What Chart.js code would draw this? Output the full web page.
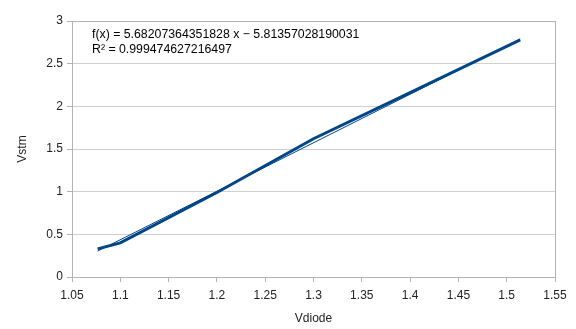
<!DOCTYPE html>
<html>
<head>
<meta charset="utf-8">
<script src="https://cdn.jsdelivr.net/npm/chart.js@4/dist/chart.umd.min.js"></script>
<style>
  html, body { margin: 0; padding: 0; background: #fff; }
  #wrap { width: 576px; height: 329px; }
</style>
</head>
<body>
<div id="wrap"><canvas id="chartDiodo" width="576" height="329"></canvas></div>
<script>
// medidas
const vdiode = [1.0765, 1.1, 1.2, 1.3, 1.4, 1.514];
const vstm = [0.33, 0.40, 0.99, 1.62, 2.16, 2.78];

// recta de tendencia (extremos)
const trendX = [1.0765, 1.514];
const trendY = [0.303, 2.789];

const ecuacion = [
    'f(x) = 5.68207364351828 x \u2212 5.81357028190031',
    'R\u00b2 = 0.999474627216497'
];

const xTicks = [1.05, 1.1, 1.15, 1.2, 1.25, 1.3, 1.35, 1.4, 1.45, 1.5, 1.55];

const azul = '#004586';
const gris = '#b3b3b3';
const grisClaro = '#d0d0d0';
const fuente = { family: '"Liberation Sans", Arial, sans-serif', size: 12 };

const textoEcuacion = {
    id: 'textoEcuacion',
    afterDatasetsDraw(chart) {
        const c = chart.ctx;
        const area = chart.chartArea;
        c.save();
        c.fillStyle = '#000';
        c.font = '12.3px "Liberation Sans", Arial, sans-serif';
        c.textBaseline = 'alphabetic';
        ecuacion.forEach((t, i) => {
            c.fillText(t, area.left + 20, area.top + 16.5 + i * 15.5);
        });
        c.restore();
    }
};

const ctx = document.getElementById('chartDiodo').getContext('2d');

const chartDiodo = new Chart(ctx, {
    type: 'scatter',
    data: {
        datasets: [{
            label: 'Vstm',
            data: vdiode.map((x, i) => ({ x: x, y: vstm[i] })),
            showLine: true,
            borderColor: azul,
            borderWidth: 3,
            pointRadius: 0,
            tension: 0
        }, {
            label: 'Tendencia',
            data: trendX.map((x, i) => ({ x: x, y: trendY[i] })),
            showLine: true,
            borderColor: azul,
            borderWidth: 1,
            pointRadius: 0
        }]
    },
    options: {
        responsive: false,
        animation: false,
        layout: { padding: { top: 21, right: 21, left: 0, bottom: 0 } },
        plugins: {
            legend: { display: false },
            tooltip: { enabled: false }
        },
        scales: {
            x: {
                type: 'linear',
                min: 1.05,
                max: 1.55,
                afterBuildTicks: (scale) => { scale.ticks = xTicks.map(v => ({ value: v })); },
                afterFit: (scale) => { scale.height = 52; },
                ticks: {
                    color: '#222',
                    font: fuente,
                    padding: 6,
                    maxRotation: 0,
                    autoSkip: false,
                    callback: (v) => String(Math.round(v * 100) / 100)
                },
                grid: {
                    color: (c) => (c.tick && c.tick.value === 1.55) ? gris : 'rgba(0,0,0,0)',
                    tickColor: gris,
                    tickLength: 5
                },
                border: { color: gris },
                title: {
                    display: true,
                    text: 'Vdiode',
                    color: '#222',
                    font: fuente,
                    padding: { top: 0, bottom: 3 }
                }
            },
            y: {
                min: 0,
                max: 3,
                afterFit: (scale) => { scale.width = 72; },
                ticks: {
                    stepSize: 0.5,
                    color: '#222',
                    font: fuente,
                    padding: 4,
                    callback: (v) => String(v)
                },
                grid: {
                    color: (c) => (c.tick && c.tick.value === 3) ? gris : grisClaro,
                    tickColor: gris,
                    tickLength: 5
                },
                border: { color: gris },
                title: {
                    display: true,
                    text: 'Vstm',
                    color: '#222',
                    font: fuente,
                    padding: { top: 15, bottom: 0 }
                }
            }
        }
    },
    plugins: [textoEcuacion]
});
</script>
</body>
</html>
